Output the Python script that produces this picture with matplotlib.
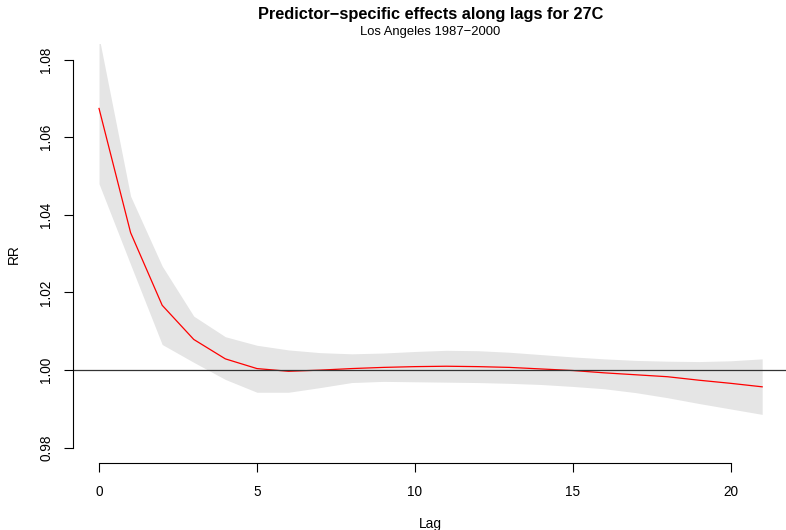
import numpy as np
import matplotlib
matplotlib.use("Agg")
import matplotlib.pyplot as plt

plt.rcParams['font.family'] = ['Liberation Sans', 'DejaVu Sans']

lags = np.arange(0, 22)
rr = [1.0674, 1.0354, 1.0167, 1.0079, 1.0029, 1.0004, 0.9997, 1.0000,
      1.0004, 1.0007, 1.0009, 1.0010, 1.0009, 1.0007, 1.0003, 0.9999,
      0.9993, 0.9988, 0.9983, 0.9974, 0.9966, 0.9957]
rr_high = [1.0858, 1.0448, 1.0268, 1.0139, 1.0086, 1.0064, 1.0052, 1.0045,
           1.0042, 1.0044, 1.0048, 1.0051, 1.0050, 1.0046, 1.0040, 1.0034,
           1.0029, 1.0025, 1.0023, 1.0022, 1.0024, 1.0029]
rr_low = [1.0480, 1.0272, 1.0066, 1.0020, 0.9976, 0.9943, 0.9943, 0.9955,
          0.9968, 0.9971, 0.9970, 0.9969, 0.9968, 0.9966, 0.9963, 0.9958,
          0.9952, 0.9942, 0.9929, 0.9914, 0.9900, 0.9886]
xticks = [0, 5, 10, 15, 20]
yticks = [0.98, 1.00, 1.02, 1.04, 1.06, 1.08]

W, H = 786, 530
fig = plt.figure(figsize=(W / 100, H / 100), dpi=100)
# plot region in pixels, R-style 4% padding around the data range
left, right, top, bottom = 72.5, 788.7, 44.0, 463.3
ax = fig.add_axes([left / W, 1 - bottom / H, (right - left) / W, (bottom - top) / H])

ax.fill_between(lags, rr_low, rr_high, color='#E5E5E5', lw=0)
ax.plot(lags, rr, color='red', lw=0.9)
ax.axhline(1.0, color='#333333', lw=0.9)

ax.set_xlim(-0.84, 21.84)
ax.set_ylim(0.976, 1.084)

for s in ['top', 'right']:
    ax.spines[s].set_visible(False)
ax.spines['left'].set_bounds(0.98, 1.08)
ax.spines['bottom'].set_bounds(0, 20)
for s in ['left', 'bottom']:
    ax.spines[s].set_linewidth(0.8)

ax.set_xticks(xticks)
ax.set_xticklabels([str(t) for t in xticks])
ax.set_yticks(yticks)
ax.set_yticklabels(['%.2f' % t for t in yticks], rotation=90, va='center')
ax.tick_params(direction='out', length=6.8, width=0.8, labelsize=9.8)
ax.tick_params(axis='x', pad=9)
ax.tick_params(axis='y', pad=7.2)

ax.set_xlabel('Lag', fontsize=9.8, labelpad=12.5)
ax.set_ylabel('RR', fontsize=9.8, labelpad=13)

cx = (left + right) / 2 / W
fig.text(cx, 1 - 15 / H, 'Predictor\u2212specific effects along lags for 27C',
         ha='center', va='center', fontsize=11.8, fontweight='bold')
fig.text(cx, 1 - 31.5 / H, 'Los Angeles 1987\u22122000',
         ha='center', va='center', fontsize=9.4)

fig.savefig('out.png', dpi=100)
